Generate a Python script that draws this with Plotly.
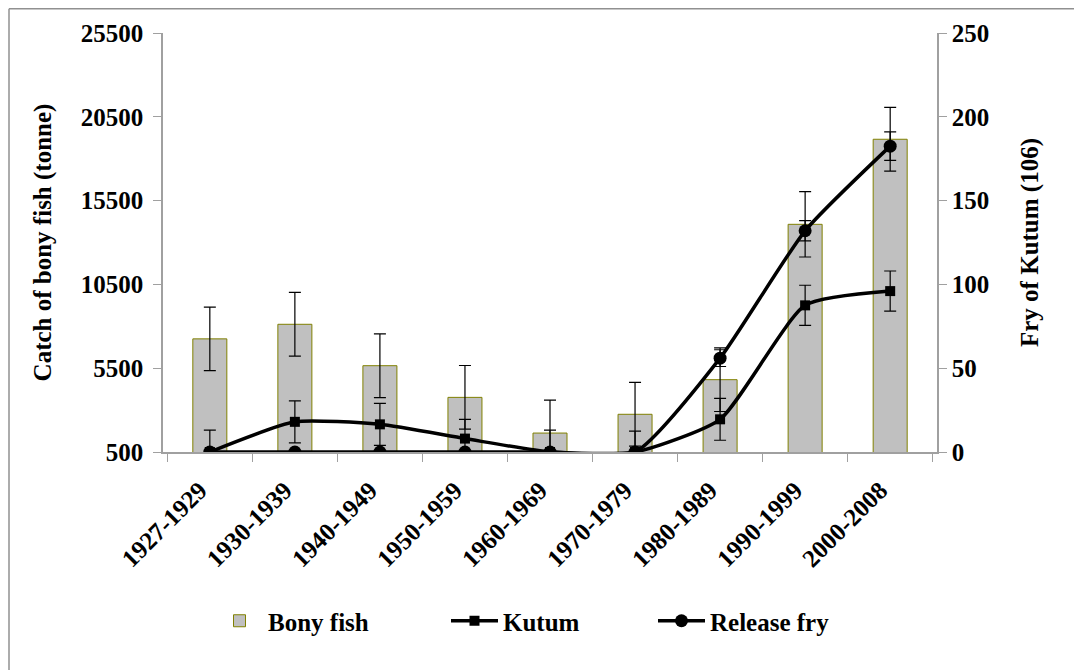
import plotly.graph_objects as go

periods = ["1927-1929", "1930-1939", "1940-1949", "1950-1959", "1960-1969",
           "1970-1979", "1980-1989", "1990-1999", "2000-2008"]
bony_fish = [7250, 8120, 5650, 3760, 1630, 2750, 4815, 14085, 19160]
bony_fish_err = [1900, 1900, 1900, 1900, 1970, 1900, 1900, 1950, 1900]
kutum = [0, 18, 16.5, 8, 0, 0, 19.5, 87.5, 96]
kutum_err = [13, 12.5, 12.5, 11.5, 13, 12.5, 12.5, 12, 12]
release_fry = [0, 0, 0, 0, 0, 0, 56, 132, 182.5]
release_fry_err = [0, 0, 0, 0, 0, 0, 5, 6, 8.5]

left_ticks = [500, 5500, 10500, 15500, 20500, 25500]
left_ticktext = ["500", "5500", "10500", "15500", "20500", "25500"]
right_ticks = [0, 50, 100, 150, 200, 250]
right_ticktext = ["0", "50", "100", "150", "200", "250"]

FONT = "Liberation Serif"
FS = 25
BOLD = dict(family=FONT, size=FS, weight="bold", color="black")

fig = go.Figure()
fig.add_trace(go.Bar(
    x=periods, y=bony_fish, name="Bony fish", width=0.4,
    marker=dict(color="#C0C0C0", line=dict(color="#808000", width=1)),
    error_y=dict(type="data", array=bony_fish_err, color="black", thickness=1.2, width=6),
    yaxis="y", legend="legend",
))
fig.add_trace(go.Scatter(
    x=periods, y=kutum, name="Kutum", mode="lines+markers",
    line=dict(color="black", width=3.5, shape="spline", smoothing=0.55),
    marker=dict(symbol="square", size=10, color="black"),
    error_y=dict(type="data", array=kutum_err, color="black", thickness=1.2, width=6),
    yaxis="y2", legend="legend2",
))
fig.add_trace(go.Scatter(
    x=periods, y=release_fry, name="Release fry", mode="lines+markers",
    line=dict(color="black", width=3.5, shape="spline", smoothing=0.55),
    marker=dict(symbol="circle", size=13, color="black"),
    error_y=dict(type="data", array=release_fry_err, color="black", thickness=1.2, width=6),
    yaxis="y2", legend="legend3",
))

# page body has an 8px margin; figure coordinates are screen - 8
OFF = 8
W, H = 1082, 670
L, T = 163 - OFF, 33 - OFF
R = W - (937 - OFF)
B = H - (452 - OFF)
pw = W - L - R
ph = H - T - B

def px(screen_x):
    return (screen_x - OFF - L) / pw

def py(screen_y):
    return (H - B - (screen_y - OFF)) / ph

def leg(xpix):
    return dict(
        orientation="h", x=px(xpix), y=py(621), xanchor="left", yanchor="middle",
        font=BOLD, itemwidth=47, bgcolor="rgba(0,0,0,0)",
    )

fig.update_layout(
    width=W, height=H,
    margin=dict(l=L, r=R, t=T, b=B, autoexpand=False),
    paper_bgcolor="white", plot_bgcolor="white",
    font=BOLD,
    showlegend=True,
    xaxis=dict(
        type="category", tickson="boundaries", ticks="outside", ticklen=8,
        tickcolor="#A0A0A0", showline=True, linecolor="#A0A0A0", linewidth=1.5,
        tickangle=-45, tickfont=BOLD, ticklabelstandoff=12, ticklabelshift=-10,
        showgrid=False, zeroline=False,
    ),
    yaxis=dict(
        range=[500, 25500], tickvals=left_ticks, ticktext=left_ticktext,
        ticks="outside", ticklen=8, ticklabelstandoff=5,
        tickcolor="#A0A0A0", showline=True, linecolor="#A0A0A0", linewidth=1.5,
        showgrid=False, zeroline=False, tickfont=BOLD,
        title=dict(text="Catch of bony fish (tonne)", standoff=22, font=BOLD),
    ),
    yaxis2=dict(
        range=[0, 250], tickvals=right_ticks, ticktext=right_ticktext,
        overlaying="y", side="right",
        ticks="outside", ticklen=8, tickcolor="#A0A0A0", showline=True,
        linecolor="#A0A0A0", linewidth=1.5, showgrid=False, zeroline=False,
        tickfont=BOLD,
        title=dict(text="Fry of Kutum (106)", standoff=32, font=BOLD),
    ),
    legend=leg(211),
    legend2=leg(446),
    legend3=leg(653),
    shapes=[
        dict(type="line", xref="paper", yref="paper", x0=px(9), x1=px(9),
             y0=py(8.75), y1=py(H + 20), line=dict(color="#909090", width=1.5)),
        dict(type="line", xref="paper", yref="paper", x0=px(9), x1=px(W + 20),
             y0=py(8.75), y1=py(8.75), line=dict(color="#909090", width=1.5)),
    ],
)

fig.write_html("out.html")
